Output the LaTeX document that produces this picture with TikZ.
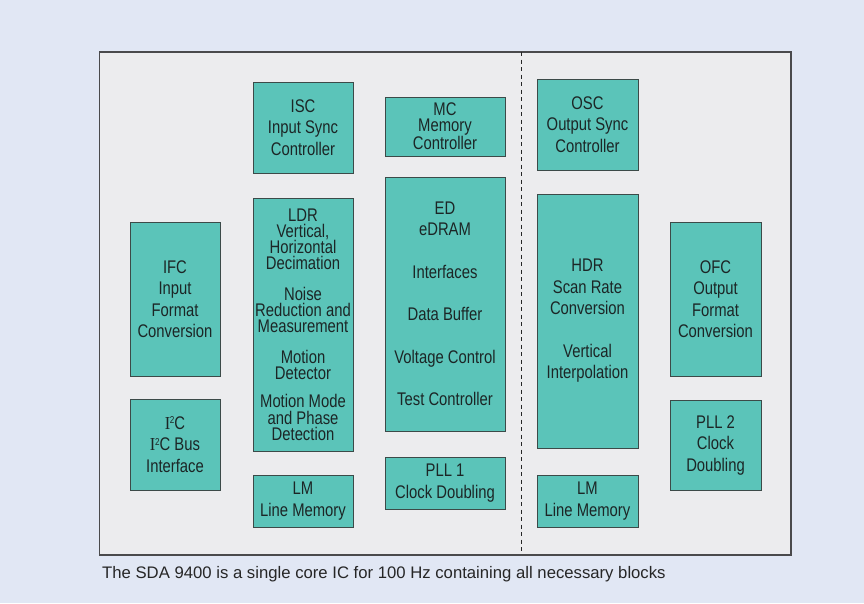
\documentclass[tikz,border=0pt]{standalone}
\usepackage{fontspec}
\setmainfont{Liberation Sans}
\newfontfamily\condfont[FakeStretch=0.81]{Liberation Sans}
\newfontfamily\serfont[FakeStretch=0.9]{Liberation Serif}
\definecolor{bgblue}{HTML}{E1E7F4}
\definecolor{framefill}{HTML}{ECECEE}
\definecolor{framedraw}{HTML}{4A4A4C}
\definecolor{teal}{HTML}{5BC4B9}
\definecolor{boxdraw}{HTML}{3C4A48}
\definecolor{txt}{HTML}{1C2626}
\newcommand{\itwoc}{{\serfont I}\kern-0.3pt\raisebox{5.8pt}{\fontsize{10}{10}\selectfont 2}C}
\begin{document}
\begin{tikzpicture}[x=1pt,y=-1pt,
  blk/.style={draw=boxdraw,fill=teal,line width=0.9pt,inner sep=0pt,
    align=center,text=txt,font=\condfont\fontsize{18.3}{21.5}\selectfont},
  tight/.style={font=\condfont\fontsize{18.3}{16.3}\selectfont}]
\useasboundingbox[fill=bgblue] (0,0) rectangle (864,603);
\node[draw=framedraw,fill=framefill,line width=1.4pt,inner sep=0pt,
  minimum width=691.5pt,minimum height=503pt] (frame) at (445.25,303.5) {};
\coordinate (dtop) at (521.3,52);
\coordinate (dbot) at (521.3,554);
\draw[black!85,line width=1pt,dash pattern=on 4pt off 3.5pt] (dtop) -- (dbot);
% top row
\node[blk,minimum width=100pt,minimum height=91pt] (isc) at (303,127.5)
  {ISC\\Input Sync\\Controller};
\node[blk,tight,minimum width=120pt,minimum height=59pt] (mc) at (445,126.5)
  {MC\\Memory\\Controller};
\node[blk,minimum width=101pt,minimum height=91pt] (osc) at (587.5,124.5)
  {OSC\\Output Sync\\Controller};
% middle
\node[blk,minimum width=90pt,minimum height=154pt] (ifc) at (175,299)
  {IFC\\Input\\Format\\Conversion};
\node[blk,tight,minimum width=100pt,minimum height=253pt] (ldr) at (303,324.5)
  {LDR\\Vertical,\\Horizontal\\Decimation\\[14pt]Noise\\Reduction and\\Measurement\\[14pt]Motion\\Detector\\[12pt]Motion Mode\\and Phase\\Detection};
\node[blk,minimum width=120pt,minimum height=254pt] (ed) at (445,304)
  {ED\\eDRAM\\[21pt]Interfaces\\[21pt]Data Buffer\\[21pt]Voltage Control\\[21pt]Test Controller};
\node[blk,minimum width=101pt,minimum height=254pt] (hdr) at (587.5,321)
  {HDR\\Scan Rate\\Conversion\\[21pt]Vertical\\Interpolation};
\node[blk,minimum width=91pt,minimum height=154pt] (ofc) at (715.5,299)
  {OFC\\Output\\Format\\Conversion};
% bottom
\node[blk,minimum width=90pt,minimum height=91pt] (i2c) at (175,444.5)
  {\itwoc\\\itwoc{} Bus\\Interface};
\node[blk,minimum width=91pt,minimum height=90pt] (pll2) at (715.5,445)
  {PLL 2\\Clock\\Doubling};
\node[blk,minimum width=100pt,minimum height=52pt] (lm1) at (303,501)
  {LM\\Line Memory};
\node[blk,minimum width=120pt,minimum height=52pt] (pll1) at (445,483)
  {PLL 1\\Clock Doubling};
\node[blk,minimum width=101pt,minimum height=52pt] (lm2) at (587.5,501)
  {LM\\Line Memory};
% caption
\node[anchor=base west,inner sep=0pt,text=black!85,font=\fontsize{16.7}{20}\selectfont] (cap) at (102,578.5)
  {The SDA 9400 is a single core IC for 100 Hz containing all necessary blocks};
\end{tikzpicture}
\end{document}
